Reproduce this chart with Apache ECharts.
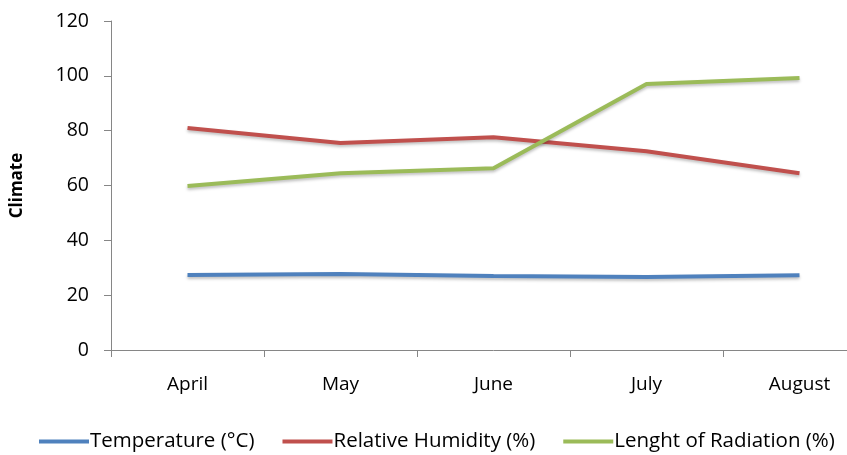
<!DOCTYPE html>
<html><head><meta charset="utf-8">
<script src="https://cdn.jsdelivr.net/npm/echarts@6/dist/echarts.min.js"></script>
<style>html,body{margin:0;padding:0;background:#fff;overflow:hidden;width:847px;height:455px}#c{width:876px;height:455px}</style>
</head><body><div id="c"></div>
<script>
const categories = ['April', 'May', 'June', 'July', 'August'];
const temperature = [27.4, 27.7, 27.0, 26.6, 27.3];
const humidity = [81.0, 75.5, 77.6, 72.5, 64.5];
const radiation = [59.8, 64.5, 66.3, 97.0, 99.2];
const yTicks = [0, 20, 40, 60, 80, 100, 120];
const seriesNames = ['Temperature (°C)', 'Relative Humidity (%)', 'Lenght of Radiation (%)'];
const colors = ['#4F81BD', '#C0504D', '#9BBB59'];
const font = '"Open Sans", Lato, sans-serif';

const chart = echarts.init(document.getElementById('c'));
const mk = (name, data, color) => ({
  name, type: 'line', data, symbol: 'none', smooth: false,
  lineStyle: { color, width: 4, shadowColor: 'rgba(0,0,0,0.25)', shadowBlur: 3, shadowOffsetY: 2 },
  itemStyle: { color }
});
chart.setOption({
  animation: false,
  grid: { left: 111, right: 0, top: 21, height: 329, containLabel: false },
  legend: {
    top: 426, left: 34,
    itemWidth: 50, itemHeight: 4, itemGap: 28,
    icon: 'rect',
    textStyle: { fontFamily: font, fontSize: 20.5, color: '#000', padding: [0, 0, 0, -4] },
    data: seriesNames
  },
  xAxis: {
    type: 'category', data: categories, boundaryGap: true,
    axisLine: { lineStyle: { color: '#868686', width: 1 } },
    axisTick: { show: true, length: 7, lineStyle: { color: '#868686' } },
    axisLabel: { fontFamily: font, fontSize: 19, color: '#000', margin: 25 }
  },
  yAxis: {
    type: 'value', min: yTicks[0], max: yTicks[yTicks.length - 1], interval: 20,
    name: 'Climate', nameLocation: 'middle', nameRotate: 90, nameGap: 85,
    nameTextStyle: { fontFamily: font, fontSize: 17, fontWeight: 'bold', color: '#000' },
    axisLine: { show: true, lineStyle: { color: '#868686', width: 1 } },
    axisTick: { show: true, length: 7, lineStyle: { color: '#868686' } },
    splitLine: { show: false },
    axisLabel: { fontFamily: font, fontSize: 19.5, color: '#000', margin: 22 }
  },
  series: [
    mk(seriesNames[0], temperature, colors[0]),
    mk(seriesNames[1], humidity, colors[1]),
    mk(seriesNames[2], radiation, colors[2])
  ]
});
</script></body></html>
